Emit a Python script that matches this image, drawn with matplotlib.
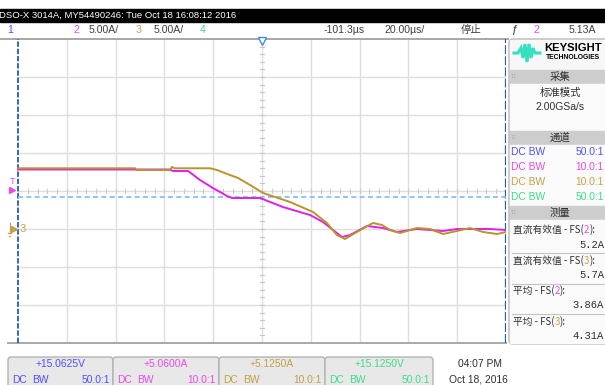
import numpy as np
import matplotlib
matplotlib.use('Agg')
import matplotlib.pyplot as plt
from matplotlib.patches import Rectangle, FancyBboxPatch

SANS = ['Liberation Sans', 'DejaVu Sans']
CJK = ['Noto Sans CJK SC', 'DejaVu Sans']
MONO = ['Liberation Mono', 'DejaVu Sans Mono']
plt.rcParams['font.family'] = SANS

# scope settings
time_per_div = 20.0          # µs/div
amps_per_div = 5.0           # A/div
ch2_offset = 5.06            # A, screen centre
trig_level = 5.13            # A on channel 2
cursor_level = 4.27          # A, dashed cursor
ch3_ground = 0.0

# channel 2 current (A) vs time (µs from left edge of screen)
t_ch2 = [0, 62.3, 63.5, 69.7, 74.6, 79.9, 85.7, 87.7, 99.2, 108.6, 119.7, 125.0,
         130.7, 132.8, 136.1, 143.0, 149.6, 155.3, 163.5, 174.2, 179.9, 193.4, 200]
i_ch2 = [7.89, 7.89, 7.69, 7.69, 6.51, 5.45, 4.40, 4.14, 4.14, 2.95, 1.90, 0.98,
         -0.47, -0.99, -0.73, 0.45, 0.19, -0.33, 0.06, -0.20, 0.06, 0.06, -0.07]

# channel 3 current
t_ch3 = [0, 48.0, 48.4, 62.3, 63.1, 64.3, 78.7, 81.6, 85.7, 90.2, 95.1, 100.4, 111.5,
         120.9, 126.6, 130.7, 134.0, 138.9, 145.5, 149.2, 152.5, 156.6, 163.5, 168.9,
         174.2, 179.9, 185.2, 190.6, 196.3, 200]
i_ch3 = [8.05, 8.05, 7.82, 7.82, 8.22, 8.05, 8.05, 7.82, 7.30, 6.77, 5.85, 4.80, 3.61,
         2.30, 0.85, -0.73, -1.26, -0.33, 0.85, 0.59, -0.07, -0.47, 0.19, 0.06,
         -0.60, -0.20, 0.19, -0.33, -0.60, -0.33]

title = 'DSO-X 3014A, MY54490246: Tue Oct 18 16:08:12 2016'
ch_colors = ['#4f4fff', '#e64ce6', '#c4a04a', '#3fdc8c']
trace2_color = '#e21fe2'
trace3_color = '#b8952c'
ch_scale_labels = ['', '5.00A/', '5.00A/', '']
ch_values = ['+15.0625V', '+5.0600A', '+5.1250A', '+15.1250V']
ch_probe = ['50.0:1', '10.0:1', '10.0:1', '50.0:1']
meas_names = ['直流有效值 - FS(', '直流有效值 - FS(', '平均 - FS(', '平均 - FS(']
meas_src = [2, 3, 2, 3]
meas_vals = ['5.2A', '5.7A', '3.86A', '4.31A']

W, H = 605, 385
fig = plt.figure(figsize=(W / 100, H / 100), dpi=100)

# pixel-space layer for the instrument chrome
ui = fig.add_axes([0, 0, 1, 1], zorder=0)
ui.set_xlim(0, W)
ui.set_ylim(H, 0)
ui.axis('off')

# waveform area: 10 x 8 divisions, with a narrow margin on the left
x0, x1, y0, y1 = 8, 506, 39, 343
ax = fig.add_axes([x0 / W, (H - y1) / H, (x1 - x0) / W, (y1 - y0) / H], zorder=2)
span = 10 * time_per_div
px_per_div = (x1 - 18) / 10
ax.set_xlim(-(18 - x0) / px_per_div * time_per_div, span)
ax.set_ylim(ch2_offset - 4 * amps_per_div, ch2_offset + 4 * amps_per_div)
ax.set_xticks([])
ax.set_yticks([])
ax.spines['left'].set_visible(False)
ax.spines['right'].set_visible(False)
for s in ['top', 'bottom']:
    ax.spines[s].set_color('#a8a8a8')
    ax.spines[s].set_linewidth(1.4)

grid_c = '#dedede'
for k in range(1, 10):
    ax.plot([k * time_per_div] * 2, ax.get_ylim(), color=grid_c, lw=1, zorder=1)
for k in range(-3, 4):
    ax.plot([0, span], [ch2_offset + k * amps_per_div] * 2, color=grid_c, lw=1, zorder=1)

# minor ticks along the centre lines
for t in np.arange(0, span + 0.1, time_per_div / 5):
    ax.plot([t, t], [ch2_offset - 0.3, ch2_offset + 0.3], color='#c8c8c8', lw=0.8, zorder=1)
ylo, yhi = ax.get_ylim()
for v in np.arange(ylo, yhi + 0.1, amps_per_div / 5):
    ax.plot([span / 2 - 0.8, span / 2 + 0.8], [v, v], color='#c8c8c8', lw=0.8, zorder=1)

# cursors at the screen edges and the horizontal cursor
ax.axvline(0, color='#2a5cb0', lw=1.3, ls=(0, (3, 1)), zorder=3)
ax.axvline(span, color='#2a5cb0', lw=1.6, ls=(0, (4, 1)), zorder=3)
ax.plot([0, span], [cursor_level] * 2, color='#7db9f3', lw=1.2, ls=(0, (3, 2)), zorder=3)

# traces
ax.plot(t_ch2, i_ch2, color=trace2_color, lw=1.4, zorder=4)
ax.plot(t_ch3, i_ch3, color=trace3_color, lw=1.4, zorder=5)

# trigger position, trigger level, ch3 ground
ax.plot(span / 2, yhi - 0.3, marker='v', ms=6, mfc='white', mec='#3a8fe0', mew=1,
        clip_on=False, zorder=6)
ax.plot(-2.3, trig_level, marker='>', ms=4, color=ch_colors[1], clip_on=False, zorder=6)
ax.text(-2.3, trig_level + 1.2, 'T', color=ch_colors[1], fontsize=6.5, ha='center',
        va='center', clip_on=False, zorder=6)
ax.plot(-1.5, ch3_ground, marker='>', ms=4, color=ch_colors[2], clip_on=False, zorder=6)
ax.plot([-3.4, -3.4], [ch3_ground + 0.9, ch3_ground - 0.5], color=ch_colors[2], lw=0.9,
        clip_on=False, zorder=6)
ax.plot([-4.0, -2.8], [ch3_ground - 0.5] * 2, color=ch_colors[2], lw=0.9, clip_on=False, zorder=6)
ax.plot([-3.7, -3.1], [ch3_ground - 0.9] * 2, color=ch_colors[2], lw=0.9, clip_on=False, zorder=6)
ax.text(1.8, ch3_ground, '3', color=ch_colors[2], fontsize=8, ha='center', va='center',
        clip_on=False, zorder=6)

# header bar
ui.add_patch(Rectangle((0, 9), W, 13, color='black'))
ui.text(-1, 15.5, title, color='white', fontsize=6.8, va='center', ha='left')
ui.plot([0, 508], [38.5, 38.5], color='#a8a8a8', lw=1.4)
row_y = 30
fs_row = 7.6
ui.text(10, row_y, '1', color=ch_colors[0], fontsize=fs_row, va='center', ha='center')
ui.text(76, row_y, '2', color=ch_colors[1], fontsize=fs_row, va='center', ha='center')
ui.text(89, row_y, ch_scale_labels[1], color='#404040', fontsize=fs_row, va='center')
ui.text(139, row_y, '3', color=ch_colors[2], fontsize=fs_row, va='center', ha='center')
ui.text(154, row_y, ch_scale_labels[2], color='#404040', fontsize=fs_row, va='center')
ui.text(203, row_y, '4', color=ch_colors[3], fontsize=fs_row, va='center', ha='center')
ui.text(344, row_y, '-101.3µs', color='#404040', fontsize=fs_row, va='center', ha='center')
ui.text(405, row_y, '20.00µs/', color='#404040', fontsize=fs_row, va='center', ha='center')
ui.text(471, row_y, '停止', color='#404040', fontsize=7.5, va='center', ha='center', family=CJK)
ui.text(515, row_y, 'ƒ', color='#303030', fontsize=8, va='center', ha='center')
ui.text(536, row_y, '2', color=ch_colors[1], fontsize=fs_row, va='center', ha='center')
ui.text(582, row_y, '5.13A', color='#404040', fontsize=fs_row, va='center', ha='center')

# side panel
ui.add_patch(FancyBboxPatch((509, 39), 110, 305, boxstyle='round,pad=0,rounding_size=4',
                            fc='#ededed', ec='#b5b5b5', lw=1))
ui.add_patch(Rectangle((510, 40), 100, 29, color='#f7f7f7'))
logo_x = [514, 518, 521, 523, 525, 527, 529, 531, 533, 535, 537, 540]
logo_y = [53, 53, 48, 58, 44, 62, 44, 58, 48, 53, 53, 53]
ui.plot(logo_x, logo_y, color='#35e0c0', lw=2.2, solid_joinstyle='miter')
ui.text(544, 48, 'KEYSIGHT', fontsize=8.1, fontweight='bold', va='center')
ui.text(546, 57.5, 'TECHNOLOGIES', fontsize=4.9, fontweight='bold', va='center')


def section(y_top, label):
    ui.add_patch(Rectangle((510, y_top), 100, 14, color='#cdcdcd'))
    ui.text(514, y_top + 7, '⠿', color='#b0b0b0', fontsize=5, va='center', ha='center',
            family=['DejaVu Sans'])
    ui.text(560, y_top + 7, label, color='#303030', fontsize=7.5, va='center', ha='center',
            family=CJK)


section(70, '采集')
ui.add_patch(Rectangle((510, 84), 100, 46, color='#fafafa'))
ui.text(560, 93, '标准模式', color='#303030', fontsize=7.5, va='center', ha='center', family=CJK)
ui.text(560, 107, '2.00GSa/s', color='#303030', fontsize=7.5, va='center', ha='center')

section(131, '通道')
ui.add_patch(Rectangle((510, 145), 100, 60, color='#fafafa'))
for k, yy in enumerate([152, 167, 182, 197]):
    ui.text(511, yy, 'DC BW', color=ch_colors[k], fontsize=7.4, va='center')
    ui.text(604, yy, ch_probe[k], color=ch_colors[k], fontsize=7.4, va='center', ha='right')

section(206, '测量')
ui.add_patch(Rectangle((510, 220), 100, 123, color='#fafafa'))
for yy in [253, 284, 314]:
    ui.plot([512, 610], [yy, yy], color='#c4c4c4', lw=0.8)

fig.canvas.draw()
renderer = fig.canvas.get_renderer()
inv = ui.transData.inverted()
for k, (yy, vy) in enumerate([(230, 245), (261, 275), (291, 305), (322, 336)]):
    t = ui.text(513, yy, meas_names[k], color='#303030', fontsize=7, va='center', family=CJK)
    bb = t.get_window_extent(renderer)
    xr = inv.transform((bb.x1, 0))[0]
    t2 = ui.text(xr, yy, str(meas_src[k]), color=ch_colors[meas_src[k] - 1], fontsize=7,
                 va='center', family=CJK)
    bb2 = t2.get_window_extent(renderer)
    xr2 = inv.transform((bb2.x1, 0))[0]
    ui.text(xr2, yy, '):', color='#303030', fontsize=7, va='center', family=CJK)
    ui.text(604, vy, meas_vals[k], color='#303030', fontsize=7.6, va='center', ha='right',
            family=MONO)

# channel boxes along the bottom
edges = [8, 113, 219, 325, 433]
for k in range(4):
    a, b = edges[k], edges[k + 1]
    ui.add_patch(FancyBboxPatch((a, 357), b - a, 40, boxstyle='round,pad=0,rounding_size=3',
                                fc='#e8e8e8', ec='#b3b3b3', lw=1))
    ui.text((a + b) / 2, 364, ch_values[k], color=ch_colors[k], fontsize=7.4, va='center',
            ha='center')
    ui.text(a + 4, 380, 'DC', color=ch_colors[k], fontsize=7.4, va='center')
    ui.text(a + 24, 380, 'BW', color=ch_colors[k], fontsize=7.4, va='center')
    ui.text(b - 3, 380, ch_probe[k], color=ch_colors[k], fontsize=7.4, va='center', ha='right')

ui.text(480, 364, '04:07 PM', color='#303030', fontsize=7.4, va='center', ha='center')
ui.text(478, 379, 'Oct 18, 2016', color='#303030', fontsize=7.4, va='center', ha='center')

fig.savefig('out.png', dpi=100)
